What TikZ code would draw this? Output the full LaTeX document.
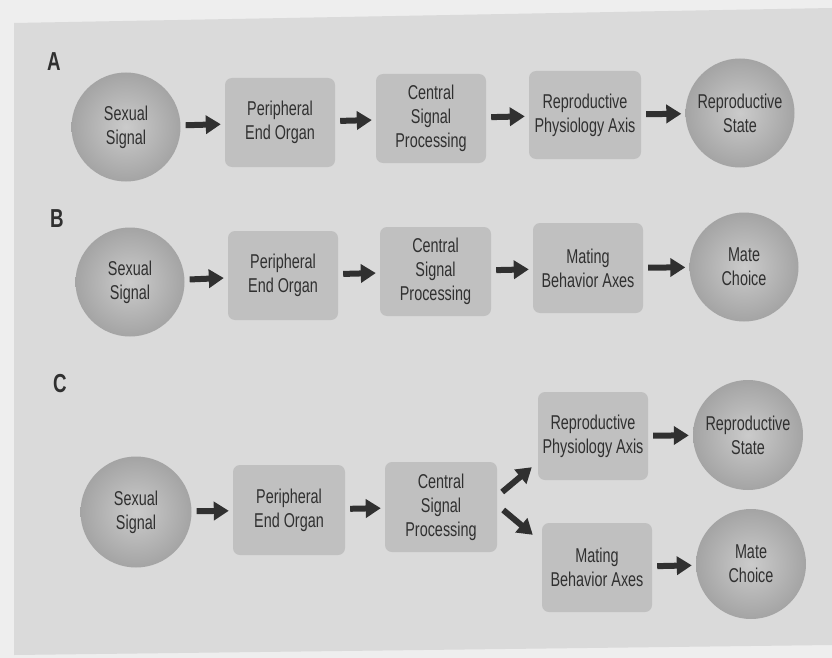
\documentclass[tikz,border=0pt]{standalone}
\usepackage{fontspec}
\setmainfont{Liberation Sans}[FakeStretch=0.72]
\usetikzlibrary{arrows.meta,calc,shadings}
\definecolor{pagec}{HTML}{EEEEEE}
\definecolor{panelc}{HTML}{DADADA}
\definecolor{boxc}{HTML}{C0C0C0}
\definecolor{circin}{HTML}{CBCBCB}
\definecolor{circout}{HTML}{A4A4A4}
\definecolor{inkc}{HTML}{303030}
\tikzset{
  nodetext/.style={align=center, text=inkc, font=\fontsize{20}{24}\selectfont},
  stage/.style={nodetext, rectangle, rounded corners=7pt, fill=boxc, minimum width=110pt, minimum height=89pt, inner sep=0pt},
  endpt/.style={nodetext, circle, inner color=circin, outer color=circout, minimum size=109pt, inner sep=0pt},
  flowline/.style={draw=inkc, line width=6pt, -{Triangle[length=15pt,width=18pt]}},
  flow/.style={flowline, shorten <=5pt, shorten >=4pt},
  panellabel/.style={font=\fontsize{26}{26}\selectfont\bfseries, text=inkc}
}
\begin{document}
\begin{tikzpicture}[x=1pt,y=-1pt]
\useasboundingbox (0,0) rectangle (832,658);
\fill[pagec] (0,0) rectangle (832,658);
\fill[panelc] (14,23) -- (832,8) -- (832,645) -- (14,655) -- cycle;

% labels
\node[panellabel] (labA) at (54,62) {A};
\node[panellabel] (labB) at (57,219) {B};
\node[panellabel] (labC) at (60,384) {C};

% Row A
\node[endpt] (ssA) at (126,127) {Sexual\\Signal};
\node[stage] (peoA) at (280,122.5) {Peripheral\\End Organ};
\node[stage] (cspA) at (431,118.5) {Central\\Signal\\Processing};
\node[stage, minimum width=112pt, minimum height=88pt] (rpaA) at (585,115) {Reproductive\\Physiology Axis};
\node[endpt] (rsA) at (740,113) {Reproductive\\State};
\draw[flow] (ssA) -- (peoA);
\draw[flow] (peoA) -- (cspA);
\draw[flow] (cspA) -- (rpaA);
\draw[flow] (rpaA) -- (rsA);

% Row B
\node[endpt] (ssB) at (130,282) {Sexual\\Signal};
\node[stage] (peoB) at (283,275.5) {Peripheral\\End Organ};
\node[stage, minimum width=111pt] (cspB) at (435.5,271.5) {Central\\Signal\\Processing};
\node[stage, minimum height=90pt] (mbaB) at (588,268) {Mating\\Behavior Axes};
\node[endpt] (mcB) at (744,267) {Mate\\Choice};
\draw[flow] (ssB) -- (peoB);
\draw[flow] (peoB) -- (cspB);
\draw[flow] (cspB) -- (mbaB);
\draw[flow] (mbaB) -- (mcB);

% Row C
\node[endpt, minimum size=111pt] (ssC) at (136,512) {Sexual\\Signal};
\node[stage, minimum width=112pt, minimum height=90pt] (peoC) at (289,510) {Peripheral\\End Organ};
\node[stage, minimum width=112pt, minimum height=90pt] (cspC) at (441,507) {Central\\Signal\\Processing};
\node[stage, minimum height=88pt] (rpaC) at (593,436) {Reproductive\\Physiology Axis};
\node[endpt, minimum size=110pt] (rsC) at (748,435) {Reproductive\\State};
\node[stage] (mbaC) at (597,567.5) {Mating\\Behavior Axes};
\node[endpt, minimum size=110pt] (mcC) at (751,564) {Mate\\Choice};
\draw[flow] (ssC) -- (peoC);
\draw[flow] (peoC) -- (cspC);
\coordinate (cu1) at ($(cspC.east)+(5,-15)$);
\coordinate (cu2) at ($(rpaC.south west)+(-6,-13)$);
\coordinate (cd1) at ($(cspC.east)+(6,3)$);
\coordinate (cd2) at ($(mbaC.north west)+(-9,12)$);
\draw[flowline] (cu1) -- (cu2);
\draw[flowline] (cd1) -- (cd2);
\draw[flow] (rpaC) -- (rsC);
\draw[flow] (mbaC) -- (mcC);
\end{tikzpicture}
\end{document}
